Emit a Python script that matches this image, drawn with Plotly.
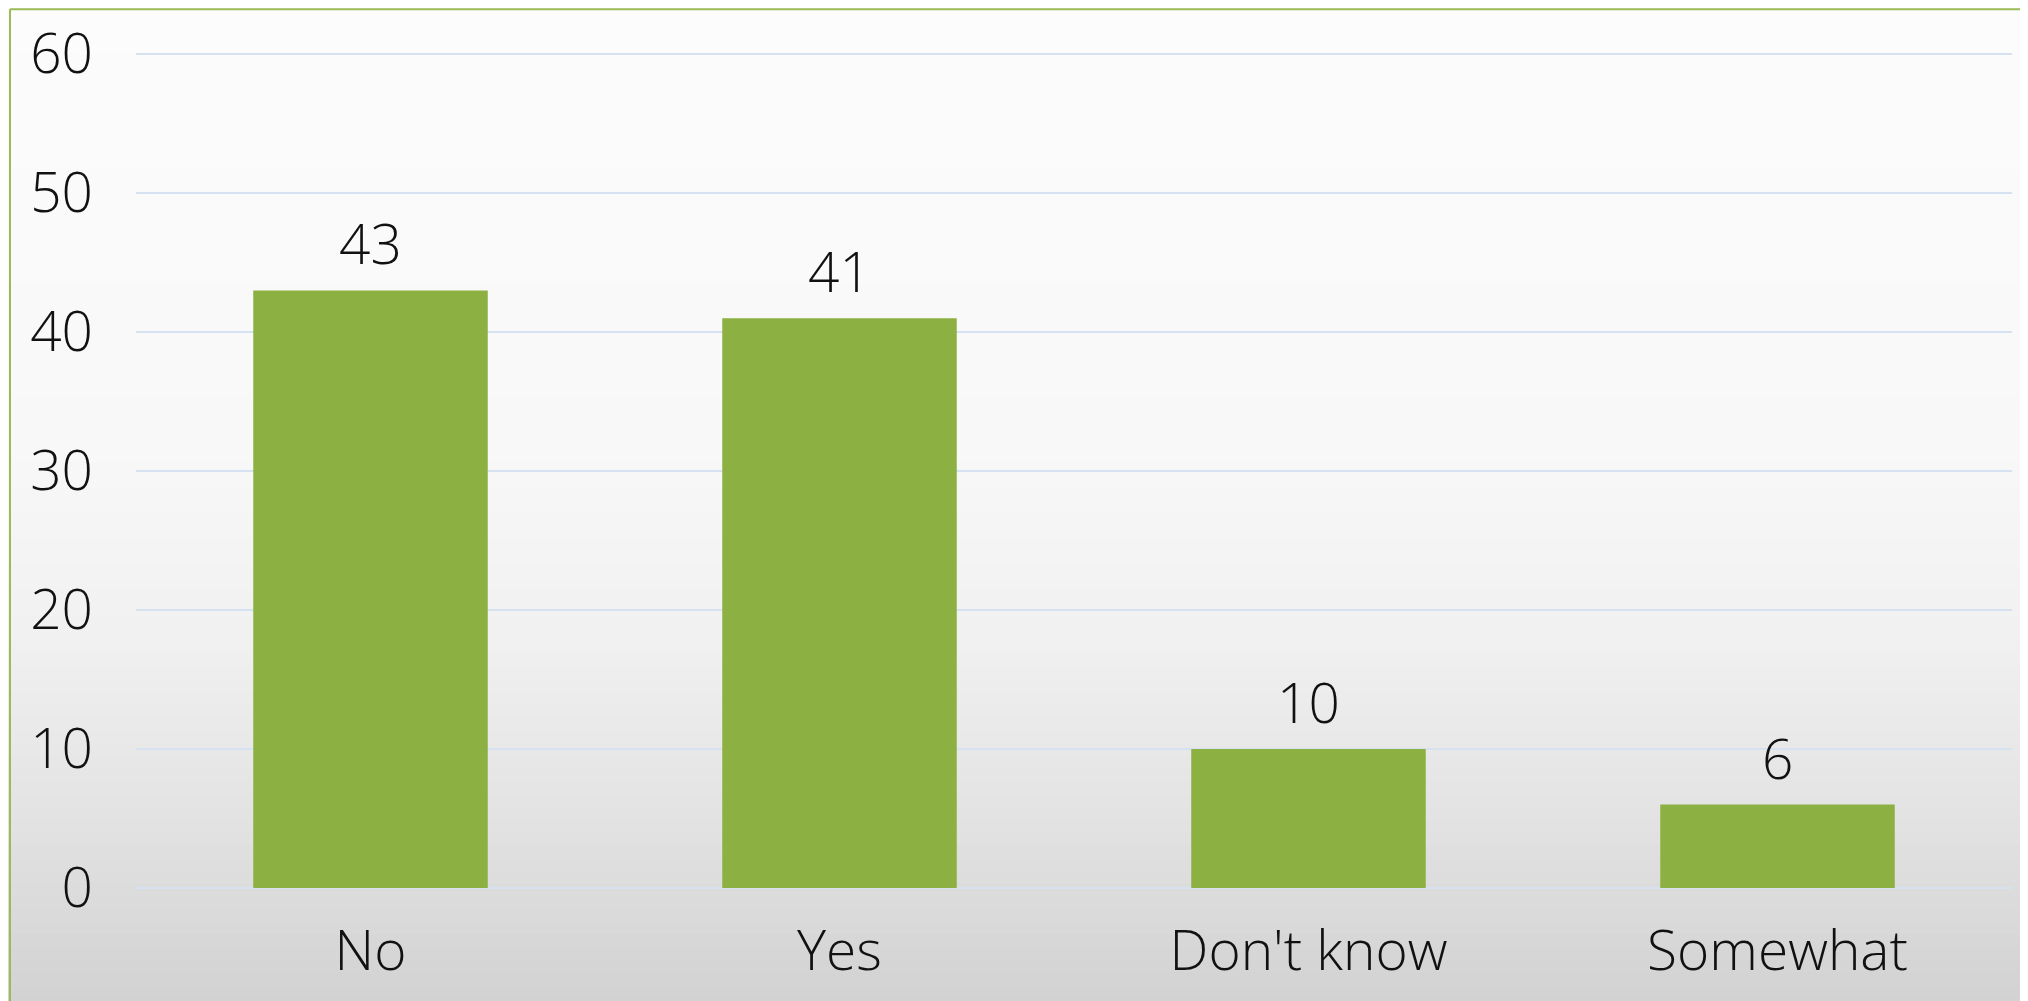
import plotly.graph_objects as go

categories = ["No", "Yes", "Don't know", "Somewhat"]
values = [43, 41, 10, 6]
tick_vals = [0, 10, 20, 30, 40, 50, 60]
tick_text = ["0", "10", "20", "30", "40", "50", "60"]

W, H = 2028, 1001
OFF = 8  # page body margin
# target plot area on page: x 136..2012, value 0 at y=888, value 60 at y=54
YMAX = 60.3
unit = (888 - 54) / 60.0
L = 136 - OFF
R = W - (2012 - OFF)
B = H - (888 - OFF)
T = (888 - OFF) - YMAX * unit
pw, ph = W - L - R, H - T - B

def px_x(p):  # page pixel -> paper x
    return (p - OFF - L) / pw

def px_y(p):  # page pixel -> paper y
    return (H - B - (p - OFF)) / ph

FONT = "Open Sans"
FS = 55

fig = go.Figure()
fig.add_trace(go.Bar(
    x=categories, y=values,
    marker=dict(color="#8cb142", line=dict(width=0)),
    hoverinfo="x+y",
))

# background gradient (white top -> light gray bottom)
stops = [(0.0, 252), (0.45, 248), (0.65, 240), (0.8, 228), (1.0, 210)]

def shade(f):
    for (a, ca), (b, cb) in zip(stops[:-1], stops[1:]):
        if a <= f <= b:
            return ca + (cb - ca) * (f - a) / (b - a)
    return stops[-1][1]

n = 80
shapes = []
for i in range(n):
    y0 = i * (H + 20) / n - 10
    y1 = (i + 1) * (H + 20) / n - 10 + 1
    g = int(round(shade(max(0, min(1, (y0 + y1) / 2 / H)))))
    shapes.append(dict(type="rect", xref="paper", yref="paper",
                       x0=px_x(-10), x1=px_x(W + 20), y0=px_y(y1), y1=px_y(y0),
                       fillcolor="rgb(%d,%d,%d)" % (g, g, g), line=dict(width=0), layer="below"))
# green frame
shapes.append(dict(type="line", xref="paper", yref="paper",
                   x0=px_x(10), x1=px_x(W + 20), y0=px_y(9), y1=px_y(9),
                   line=dict(color="#9bbb59", width=2)))
shapes.append(dict(type="line", xref="paper", yref="paper",
                   x0=px_x(10), x1=px_x(10), y0=px_y(9), y1=px_y(H + 20),
                   line=dict(color="#9bbb59", width=2)))

annotations = [dict(x=c, y=v, xref="x", yref="y", text=str(v), showarrow=False,
                    yanchor="bottom", yshift=8,
                    font=dict(family=FONT, size=FS, color="#111111", weight=300))
               for c, v in zip(categories, values)]

fig.update_layout(
    width=W, height=H,
    margin=dict(l=L, r=R, t=T, b=B, pad=0, autoexpand=False),
    paper_bgcolor="#e8e8e8",
    plot_bgcolor="rgba(0,0,0,0)",
    bargap=0.5,
    showlegend=False,
    shapes=shapes,
    annotations=annotations,
    font=dict(family=FONT, color="#111111"),
    xaxis=dict(showgrid=False, showline=False, zeroline=False, ticks="",
               automargin=False,
               tickfont=dict(family=FONT, size=FS, color="#111111", weight=300),
               ticklabelstandoff=26),
    yaxis=dict(range=[0, YMAX], tickvals=tick_vals, ticktext=tick_text,
               automargin=False,
               showgrid=True, gridcolor="#d6e2f1", gridwidth=2,
               zeroline=True, zerolinecolor="#d6e2f1", zerolinewidth=2,
               showline=False, ticks="",
               tickfont=dict(family=FONT, size=FS, color="#111111", weight=300),
               ticklabelstandoff=42),
)

fig.write_html("out.html")
